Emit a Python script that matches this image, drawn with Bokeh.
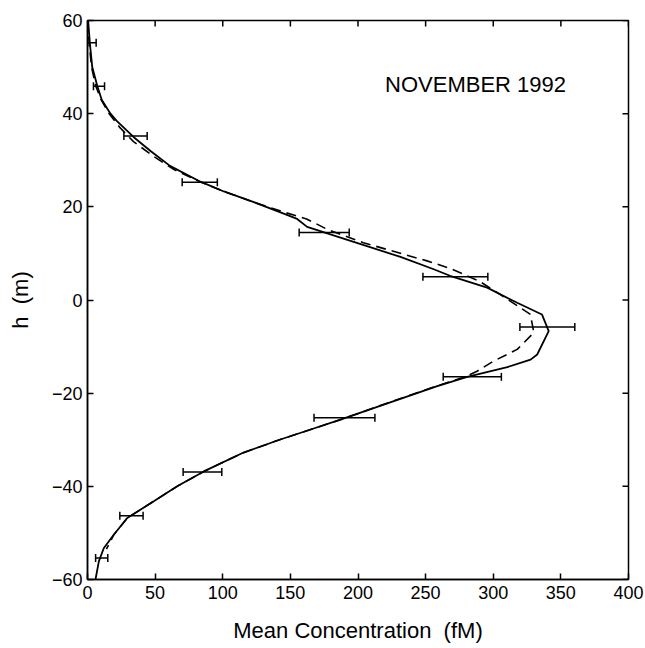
import math
from bokeh.plotting import figure
from bokeh.models import (Whisker, TeeHead, ColumnDataSource,
                          FixedTicker, Range1d, Label)
from bokeh.embed import file_html
from bokeh.resources import INLINE

# --- data ---
# measured means with horizontal error bars
obs_h = [55.2, 45.9, 35.2, 25.3, 14.5, 5.0, -5.8, -16.5, -25.3, -36.9, -46.3, -55.4]
obs_mean = [3.2, 8.5, 35.5, 83.0, 175.0, 272.0, 340.0, 284.5, 190.0, 85.0, 32.5, 10.5]
obs_err = [3.2, 4.1, 8.6, 13.0, 18.5, 24.0, 20.3, 21.5, 22.5, 14.3, 8.6, 4.5]

# model profile (solid)
solid_h = [60, 58, 55, 50, 46, 43, 40, 38.5, 35, 32, 28.8, 25.4, 23.3, 21, 18.8,
           17.4, 15.7, 12.7, 9.25, 6.6, 5.2, 2.65, -0.6, -3.1, -6.7, -11.7, -12.8,
           -14.4, -16.5, -18.5, -21.7, -25.7, -27.8, -30, -32.8, -36.8, -40, -43.2,
           -46.8, -50.4, -53.3, -56.1, -60]
solid_c = [0.5, 1.0, 1.8, 3.5, 7.2, 10.5, 17, 21.4, 34, 46.6, 61, 83.5, 100.8, 123,
           142.7, 155, 162.4, 194.5, 231.4, 256, 268, 295.5, 317.7, 336, 341, 332.5,
           327.6, 310.4, 280.8, 258.6, 226.5, 187, 165, 142, 115, 86, 66.3, 49,
           29.4, 19.4, 12, 8.4, 5.9]

# model profile (dashed)
dash_h = [60, 58, 55, 50, 46, 43, 40, 37, 34, 31, 28, 25.4, 23.3, 21, 18.8, 17.4,
          15.2, 12.3, 8.4, 6.8, 4, 1.2, -3.1, -7, -10.6, -13.1, -15.3, -16.5, -18.5,
          -21.7, -25.7, -27.8, -30, -32.8, -36.8, -40, -43.2, -46.8, -50.4, -53.5]
dash_c = [0, 0.6, 1.3, 3, 6, 10, 16, 24, 34, 48, 64, 83, 100.8, 123, 146, 162, 177,
          204, 251, 268, 290, 305, 327.5, 330, 317.7, 300.4, 288, 279, 258, 226, 187,
          165, 142, 115, 86, 66.3, 49, 29.4, 19.4, 14]

x_ticks = [0, 50, 100, 150, 200, 250, 300, 350, 400]
y_ticks = [-60, -40, -20, 0, 20, 40, 60]
y_tick_labels = ["\u221260", "\u221240", "\u221220", "0", "20", "40", "60"]

FONT = "Liberation Sans"
X0, X1, Y0, Y1 = 0, 400, -60, 60

p = figure(width=645, height=648, x_range=Range1d(X0, X1), y_range=Range1d(Y0, Y1),
           output_backend="svg", toolbar_location=None,
           min_border_left=87, min_border_right=17, min_border_top=20,
           min_border_bottom=69, background_fill_color="white",
           border_fill_color="white")
p.grid.visible = False
p.outline_line_color = "black"
p.outline_line_width = 1.5

for ax in (p.xaxis[0], p.yaxis[0]):
    ax.major_tick_in = 6
    ax.major_tick_out = 0
    ax.minor_tick_line_color = None
    ax.axis_line_width = 1.5
    ax.major_tick_line_width = 1.5
    ax.major_label_text_font = FONT
    ax.major_label_text_font_size = "18px"
    ax.major_label_text_color = "black"
    ax.axis_label_text_font = FONT
    ax.axis_label_text_font_size = "22px"
    ax.axis_label_text_font_style = "normal"
    ax.axis_label_text_color = "black"

p.xaxis[0].ticker = FixedTicker(ticks=x_ticks)
p.yaxis[0].ticker = FixedTicker(ticks=y_ticks)
p.yaxis[0].major_label_overrides = {t: s for t, s in zip(y_ticks, y_tick_labels)}
p.xaxis[0].axis_label = "Mean Concentration\u00a0\u00a0(fM)"
p.yaxis[0].axis_label = "h\u00a0\u00a0(m)"
p.xaxis[0].major_label_standoff = 6
p.xaxis[0].axis_label_standoff = 16
p.yaxis[0].major_label_standoff = 5
p.yaxis[0].axis_label_standoff = 16

# inward ticks on the top and right edges (markers clipped to the frame)
p.scatter(x_ticks, [Y1] * len(x_ticks), marker="dash", angle=math.pi / 2, size=12,
          line_color="black", line_width=1.5)
p.scatter([X1] * len(y_ticks), y_ticks, marker="dash", size=12,
          line_color="black", line_width=1.5)

# curves
p.line(solid_c, solid_h, line_color="black", line_width=1.8)
p.line(dash_c, dash_h, line_color="black", line_width=1.6, line_dash="10 6")

# error bars
lo = [m - e for m, e in zip(obs_mean, obs_err)]
hi = [m + e for m, e in zip(obs_mean, obs_err)]
src = ColumnDataSource(data=dict(h=obs_h, lo=lo, hi=hi))
p.add_layout(Whisker(source=src, base="h", lower="lo", upper="hi", dimension="width",
                     line_color="black", line_width=1.5,
                     lower_head=TeeHead(size=8, line_width=1.5, line_color="black"),
                     upper_head=TeeHead(size=8, line_width=1.5, line_color="black")))

p.add_layout(Label(x=220, y=46.2, text="NOVEMBER 1992", text_font=FONT,
                   text_font_size="22px", text_color="black",
                   text_baseline="alphabetic", text_align="left"))

open("out.html", "w").write(file_html(p, INLINE))
